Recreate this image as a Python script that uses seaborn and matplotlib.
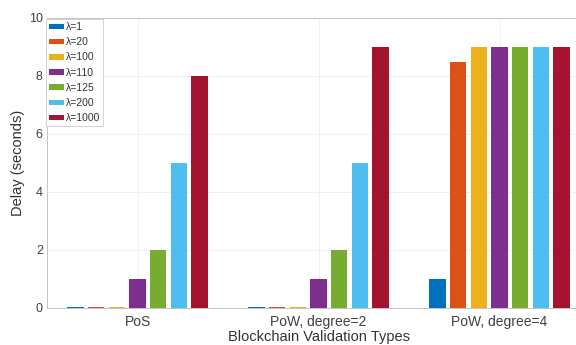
import matplotlib
matplotlib.use("Agg")
import matplotlib.pyplot as plt
import seaborn as sns
import pandas as pd

# Validation types on the x axis
categories = ["PoS", "PoW, degree=2", "PoW, degree=4"]

# Arrival rates (one bar per rate within each group)
lambdas = ["λ=1", "λ=20", "λ=100", "λ=110", "λ=125", "λ=200", "λ=1000"]

# Delay in seconds, one list per validation type (ordered as lambdas)
delay_pos = [0.03, 0.03, 0.03, 1.0, 2.0, 5.0, 8.0]
delay_pow2 = [0.05, 0.05, 0.03, 1.0, 2.0, 5.0, 9.0]
delay_pow4 = [1.0, 8.5, 9.0, 9.0, 9.0, 9.0, 9.0]

y_ticks = [0, 2, 4, 6, 8, 10]

colors = ["#0072BD", "#D95319", "#EDB120", "#7E2F8E",
          "#77AC30", "#4DBEEE", "#A2142F"]

rows = []
for cat, vals in zip(categories, [delay_pos, delay_pow2, delay_pow4]):
    for lam, v in zip(lambdas, vals):
        rows.append({"type": cat, "rate": lam, "delay": v})
df = pd.DataFrame(rows)

sns.set_style("white")
plt.rcParams["font.family"] = ["Liberation Sans", "DejaVu Sans"]

fig = plt.figure(figsize=(5.76, 3.45), dpi=100)
ax = fig.add_axes([47 / 576, (345 - 308) / 345, (590 - 47) / 576, (308 - 18) / 345])

sns.barplot(data=df, x="type", y="delay", hue="rate", order=categories,
            hue_order=lambdas, palette=colors, gap=0.2, saturation=1,
            width=0.8, ax=ax, zorder=3)

ax.set_xlim(-0.5, 2.5)
ax.set_ylim(0, 10)
ax.set_yticks(y_ticks)
ax.set_xlabel("Blockchain Validation Types", fontsize=10.5, color="#333333", labelpad=1)
ax.set_ylabel("Delay (seconds)", fontsize=10.5, color="#333333", labelpad=3)

ax.tick_params(axis="x", labelsize=10, colors="#c0c0c0", labelcolor="#404040",
               direction="in", length=3, pad=5)
ax.tick_params(axis="y", labelsize=9, colors="#c0c0c0", labelcolor="#404040",
               direction="in", length=3, pad=3)

ax.grid(True, color="#f0f0f0", linewidth=0.7, zorder=0)
ax.set_axisbelow(True)
for side in ["left", "bottom", "top"]:
    ax.spines[side].set_color("#c4c4c4")
    ax.spines[side].set_linewidth(0.7)
ax.spines["right"].set_visible(False)

for bar in ax.patches:
    bar.set_edgecolor("none")

handles, labels = ax.get_legend_handles_labels()
leg = ax.legend(handles, labels, loc="upper left", bbox_to_anchor=(-0.002, 0.995),
                fontsize=7.5, frameon=True, fancybox=False, framealpha=1,
                edgecolor="#cccccc", handlelength=1.45, handleheight=0.45,
                handletextpad=0.25, labelspacing=0.5, borderpad=0.25,
                borderaxespad=0)
leg.get_frame().set_linewidth(0.6)
for t in leg.get_texts():
    t.set_color("#333333")

fig.savefig("out.png", dpi=100)
